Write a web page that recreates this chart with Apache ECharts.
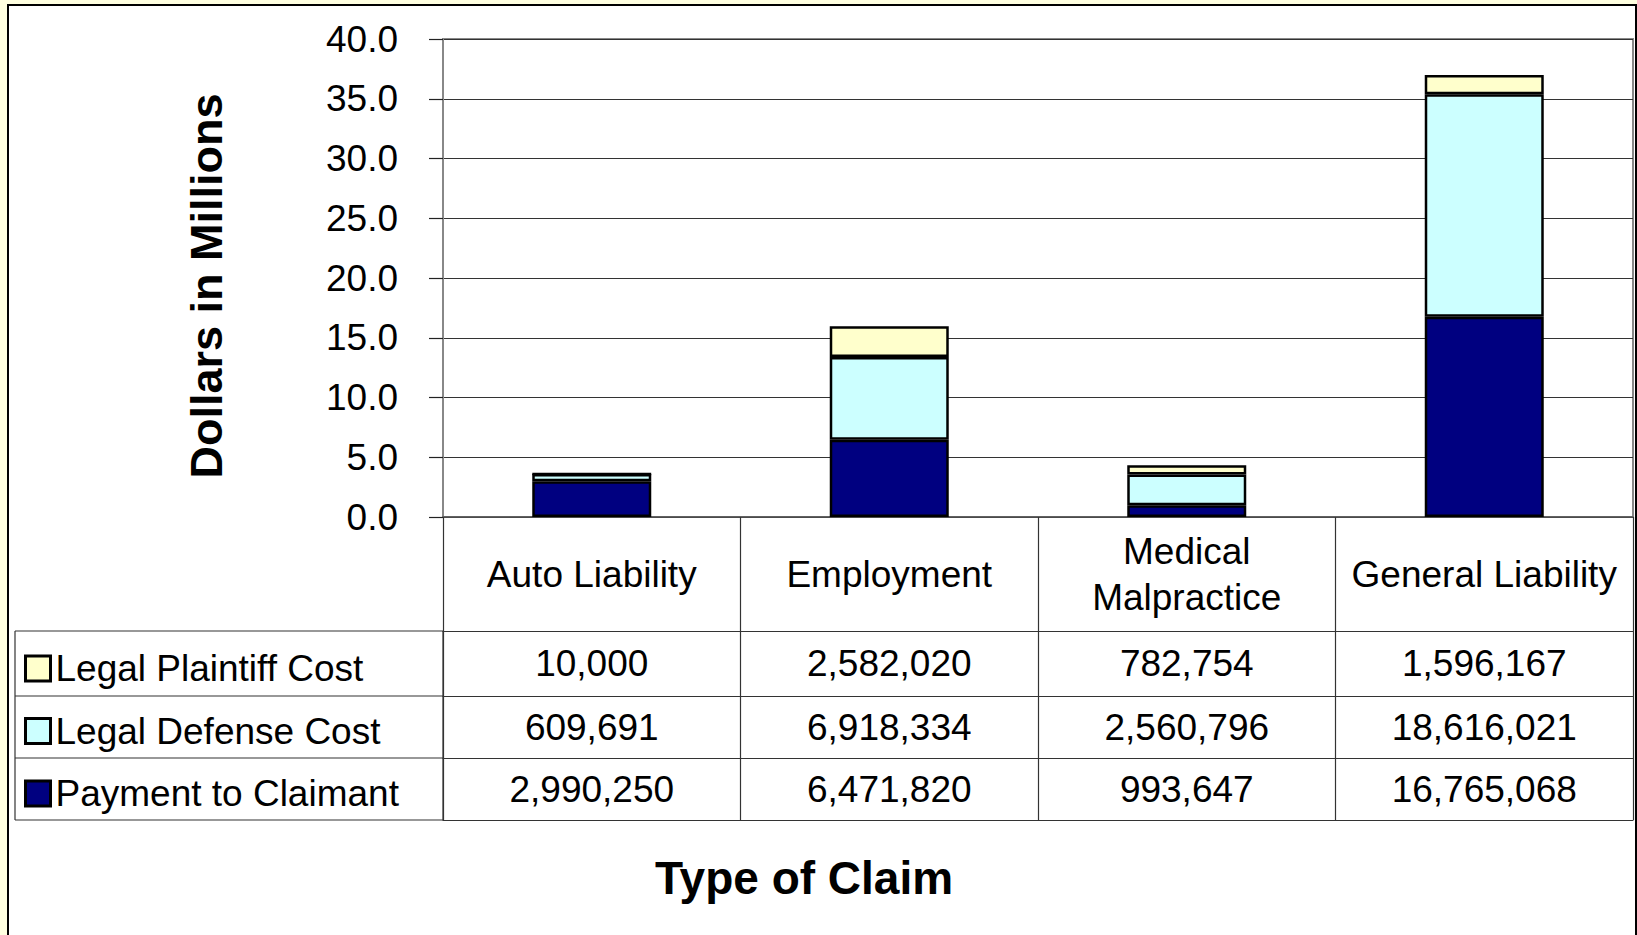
<!DOCTYPE html>
<html>
<head>
<meta charset="utf-8">
<script src="https://cdn.jsdelivr.net/npm/echarts@6/dist/echarts.min.js"></script>
<style>
  html, body { margin: 0; padding: 0; background: #FFFFE0; width: 1637px; height: 935px; overflow: hidden; }
  #panel { position: absolute; left: 7px; top: 4px; width: 1630px; height: 940px; box-sizing: border-box; background: #fff; border: 2px solid #000; }
  #chart { position: absolute; left: 0; top: 0; width: 1637px; height: 935px; }
</style>
</head>
<body>
<div id="panel"></div>
<div id="chart"></div>
<script>
// ---- Data ----
const categories = ['Auto Liability', 'Employment', 'Medical\nMalpractice', 'General Liability'];
const seriesNames = ['Legal Plaintiff Cost', 'Legal Defense Cost', 'Payment to Claimant'];
const plaintiffCost = [10000, 2582020, 782754, 1596167];
const defenseCost = [609691, 6918334, 2560796, 18616021];
const paymentToClaimant = [2990250, 6471820, 993647, 16765068];
const yTickMin = 0, yTickMax = 40, yTickStep = 5;
const xTitle = 'Type of Claim';
const yTitle = 'Dollars in Millions';

// ---- Helpers ----
const FONT = "'Liberation Sans', Arial, sans-serif";
const fmt = v => v.toLocaleString('en-US');
const toMillions = arr => arr.map(v => v / 1e6);
const lineColor = '#333';

function rowAxis(values, offset, height) {
  return {
    type: 'category', gridIndex: 0, position: 'bottom', offset: offset,
    data: categories,
    axisLine: { show: true, lineStyle: { color: lineColor, width: 1.2 } },
    axisTick: { show: height > 0, interval: 0, length: height, lineStyle: { color: lineColor, width: 1.2 } },
    axisLabel: {
      show: values !== null, interval: 0, hideOverlap: false,
      margin: height / 2, verticalAlign: 'middle',
      fontSize: 37, fontFamily: FONT, color: '#000',
      formatter: (v, i) => values ? fmt(values[i]) : ''
    },
    splitLine: { show: false }, axisPointer: { show: false }
  };
}

const chart = echarts.init(document.getElementById('chart'), null, { renderer: 'svg' });
const option = {
  backgroundColor: 'transparent',
  animation: false,
  textStyle: { fontFamily: FONT },
  grid: { left: 443, top: 39, right: 4, bottom: 418, show: true, borderColor: '#888', borderWidth: 2, containLabel: false },
  legend: {
    orient: 'vertical', left: 24, top: 650, padding: 0,
    itemWidth: 25, itemHeight: 25, itemGap: 25.5, icon: 'rect',
    data: seriesNames,
    itemStyle: { borderColor: '#000', borderWidth: 3 },
    textStyle: { fontSize: 37, fontFamily: FONT, color: '#000' },
    selectedMode: false
  },
  xAxis: [
    {
      type: 'category', data: categories, position: 'bottom',
      axisLine: { show: true, lineStyle: { color: '#555', width: 1.5 } },
      axisTick: { show: true, interval: 0, length: 114, lineStyle: { color: lineColor, width: 1.2 } },
      axisLabel: { interval: 0, hideOverlap: false, margin: 57, verticalAlign: 'middle', fontSize: 37, lineHeight: 46, fontFamily: FONT, color: '#000' },
      splitLine: { show: false }
    },
    rowAxis(plaintiffCost, 114, 65),
    rowAxis(defenseCost, 179, 62),
    rowAxis(paymentToClaimant, 241, 62),
    rowAxis(null, 303, 0)
  ],
  yAxis: {
    type: 'value', min: yTickMin, max: yTickMax, interval: yTickStep,
    name: yTitle, nameLocation: 'middle', nameGap: 214, nameRotate: 90,
    nameTextStyle: { fontSize: 45, fontWeight: 'bold', fontFamily: FONT, color: '#000', padding: [0, 16, 0, 0] },
    axisLine: { show: true, lineStyle: { color: '#888', width: 2 } },
    axisTick: { show: true, length: 14, lineStyle: { color: '#222', width: 1.2 } },
    axisLabel: { margin: 45, fontSize: 37, fontFamily: FONT, color: '#000', formatter: v => v.toFixed(1) },
    splitLine: { show: true, lineStyle: { color: '#333', width: 1.2 } }
  },
  series: [
    { name: seriesNames[2], type: 'bar', stack: 'total', barWidth: '40%', data: toMillions(paymentToClaimant),
      itemStyle: { color: '#000080', borderColor: '#000', borderWidth: 2.5 } },
    { name: seriesNames[1], type: 'bar', stack: 'total', barWidth: '40%', data: toMillions(defenseCost),
      itemStyle: { color: '#CCFFFF', borderColor: '#000', borderWidth: 2.5 } },
    { name: seriesNames[0], type: 'bar', stack: 'total', barWidth: '40%', data: toMillions(plaintiffCost),
      itemStyle: { color: '#FFFFCC', borderColor: '#000', borderWidth: 2.5 } }
  ],
  graphic: {
    elements: [
      // left (legend) part of the data table grid
      { type: 'line', shape: { x1: 15, y1: 631, x2: 443, y2: 631 }, style: { stroke: lineColor, lineWidth: 1.2 } },
      { type: 'line', shape: { x1: 15, y1: 696, x2: 443, y2: 696 }, style: { stroke: lineColor, lineWidth: 1.2 } },
      { type: 'line', shape: { x1: 15, y1: 758, x2: 443, y2: 758 }, style: { stroke: lineColor, lineWidth: 1.2 } },
      { type: 'line', shape: { x1: 15, y1: 820, x2: 443, y2: 820 }, style: { stroke: lineColor, lineWidth: 1.2 } },
      { type: 'line', shape: { x1: 15, y1: 631, x2: 15, y2: 820 }, style: { stroke: lineColor, lineWidth: 1.2 } },
      { type: 'line', shape: { x1: 443, y1: 631, x2: 443, y2: 820 }, style: { stroke: lineColor, lineWidth: 1.2 } },
      // x axis title
      { type: 'text', x: 804, y: 878,
        style: { text: xTitle, font: "bold 46px 'Liberation Sans', Arial, sans-serif", fill: '#000',
                 align: 'center', verticalAlign: 'middle', textAlign: 'center', textVerticalAlign: 'middle' } }
    ]
  }
};
chart.setOption(option);
</script>
</body>
</html>
